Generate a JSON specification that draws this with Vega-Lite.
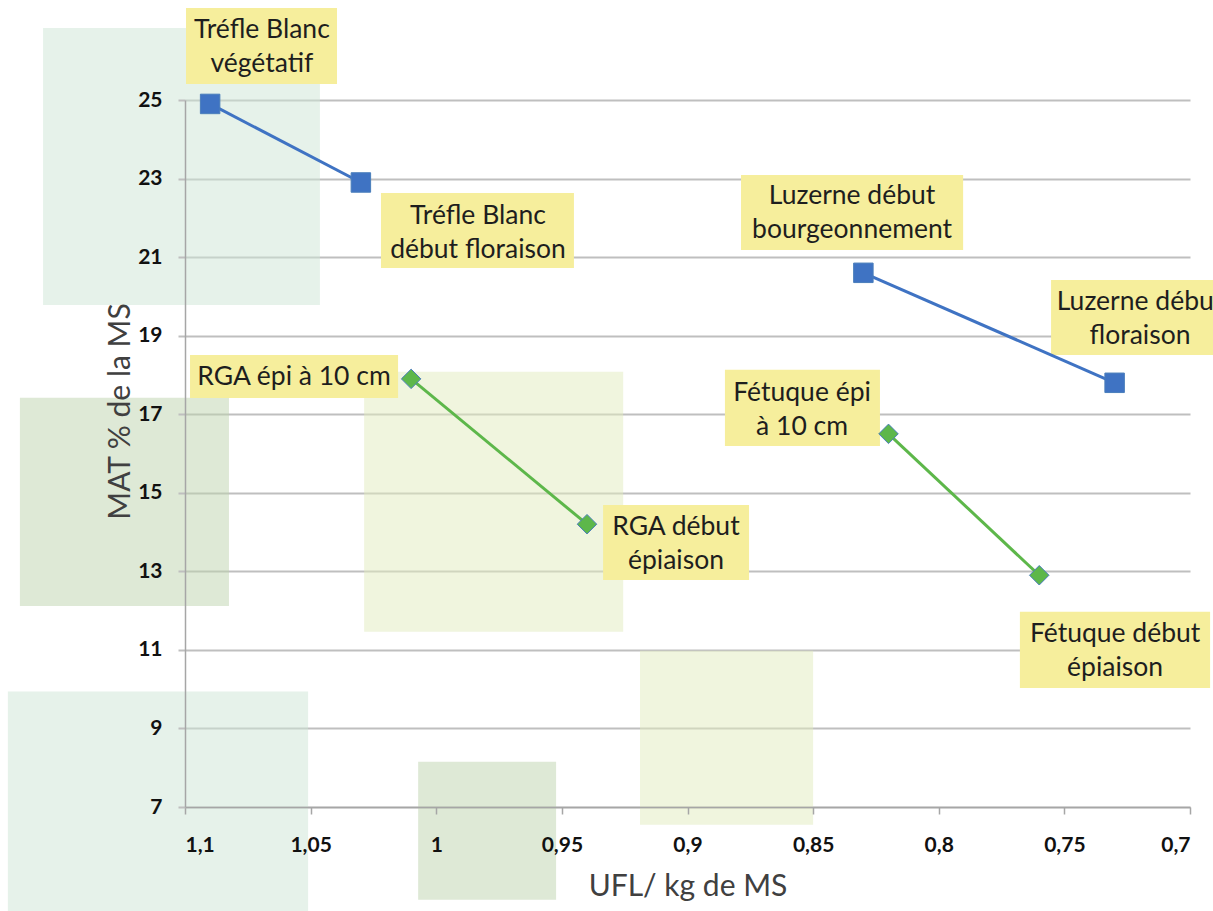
{
  "$schema": "https://vega.github.io/schema/vega-lite/v6.json",
  "autosize": {"type": "none"},
  "width": 1005,
  "height": 707,
  "padding": {"left": 185, "top": 100, "right": 23, "bottom": 104},
  "background": "white",
  "config": {"view": {"stroke": null}},
  "datasets": {
    "zones": [
      {"zone": "menthe", "x1": 1.1565, "x2": 1.0463, "y1": 26.83, "y2": 19.78},
      {"zone": "vert", "x1": 1.1657, "x2": 1.0825, "y1": 17.42, "y2": 12.12},
      {"zone": "jaune", "x1": 1.0287, "x2": 0.9256, "y1": 18.08, "y2": 11.46},
      {"zone": "menthe", "x1": 1.1705, "x2": 1.051, "y1": 9.94, "y2": 4.3},
      {"zone": "vert", "x1": 1.0072, "x2": 0.9523, "y1": 8.15, "y2": 4.64},
      {"zone": "jaune", "x1": 0.9189, "x2": 0.85, "y1": 10.98, "y2": 6.55}
    ],
    "etiquettes": [
      {"txt": "Tréfle Blanc\nvégétatif", "x1": 1.0996, "x2": 1.0395, "y1": 27.34, "y2": 25.41, "tx": 1.0694, "ty": 26.78},
      {"txt": "Tréfle Blanc\ndébut floraison", "x1": 1.022, "x2": 0.9452, "y1": 22.63, "y2": 20.72, "tx": 0.9834, "ty": 22.05},
      {"txt": "Luzerne début\nbourgeonnement", "x1": 0.8787, "x2": 0.7903, "y1": 23.09, "y2": 21.18, "tx": 0.8345, "ty": 22.56},
      {"txt": "Luzerne début\nfloraison", "x1": 0.7553, "x2": 0.6873, "y1": 20.42, "y2": 18.51, "tx": 0.7199, "ty": 19.86},
      {"txt": "RGA épi à 10 cm", "x1": 1.098, "x2": 1.0152, "y1": 18.51, "y2": 17.41, "tx": 1.0566, "ty": 17.95},
      {"txt": "RGA début\népiaison", "x1": 0.9336, "x2": 0.8755, "y1": 14.69, "y2": 12.78, "tx": 0.9046, "ty": 14.13},
      {"txt": "Fétuque épi\nà 10 cm", "x1": 0.8851, "x2": 0.8234, "y1": 18.13, "y2": 16.19, "tx": 0.8544, "ty": 17.54},
      {"txt": "Fétuque début\népiaison", "x1": 0.7677, "x2": 0.692, "y1": 11.97, "y2": 10.03, "tx": 0.7298, "ty": 11.41}
    ],
    "fourrages": [
      {"serie": "Tréfle Blanc", "groupe": "Légumineuse", "stade": "végétatif", "ufl": 1.09, "mat": 24.9},
      {"serie": "Tréfle Blanc", "groupe": "Légumineuse", "stade": "début floraison", "ufl": 1.03, "mat": 22.9},
      {"serie": "Luzerne", "groupe": "Légumineuse", "stade": "début bourgeonnement", "ufl": 0.83, "mat": 20.6},
      {"serie": "Luzerne", "groupe": "Légumineuse", "stade": "début floraison", "ufl": 0.73, "mat": 17.8},
      {"serie": "RGA", "groupe": "Graminée", "stade": "épi à 10 cm", "ufl": 1.01, "mat": 17.9},
      {"serie": "RGA", "groupe": "Graminée", "stade": "début épiaison", "ufl": 0.94, "mat": 14.2},
      {"serie": "Fétuque", "groupe": "Graminée", "stade": "épi à 10 cm", "ufl": 0.82, "mat": 16.5},
      {"serie": "Fétuque", "groupe": "Graminée", "stade": "début épiaison", "ufl": 0.76, "mat": 12.9}
    ]
  },
  "resolve": {"scale": {"color": "independent"}, "axis": {"x": "independent", "y": "independent"}},
  "layer": [
    {
      "data": {"name": "zones"},
      "mark": {"type": "rect", "opacity": 0.5},
      "encoding": {
        "x": {
          "field": "x1", "type": "quantitative",
          "scale": {"domain": [1.1, 0.7], "nice": false, "zero": false},
          "axis": {"orient": "bottom", "grid": false, "domain": false, "ticks": false, "labels": false, "title": null, "zindex": 0}
        },
        "x2": {"field": "x2"},
        "y": {
          "field": "y1", "type": "quantitative",
          "scale": {"domain": [7, 25], "nice": false, "zero": false},
          "axis": {
            "orient": "left",
            "values": [7, 9, 11, 13, 15, 17, 19, 21, 23, 25],
            "grid": true, "gridColor": "#BFBFBF", "gridWidth": 2,
            "domain": false, "ticks": false, "labels": false, "title": null, "zindex": 0
          }
        },
        "y2": {"field": "y2"},
        "color": {
          "field": "zone", "type": "nominal",
          "scale": {"domain": ["menthe", "vert", "jaune"], "range": ["#CDE5D5", "#BDD3AD", "#E1EBBD"]},
          "legend": null
        }
      }
    },
    {
      "data": {"name": "etiquettes"},
      "mark": {"type": "rect", "color": "#F6EE9C"},
      "encoding": {
        "x": {
          "field": "x1", "type": "quantitative",
          "axis": {
            "orient": "bottom",
            "values": [1.1, 1.05, 1, 0.95, 0.9, 0.85, 0.8, 0.75, 0.7],
            "labelExpr": "replace(format(datum.value, '.2~f'), '.', ',')",
            "grid": false, "zindex": 1,
            "domain": true, "domainColor": "#A6A6A6", "domainWidth": 1.5,
            "ticks": true, "tickColor": "#A6A6A6", "tickSize": 7, "tickWidth": 1.5,
            "labelFont": "Lato", "labelFontSize": 21, "labelFontWeight": "bold", "labelColor": "#111111",
            "labelPadding": 20,
            "title": "UFL/ kg de MS",
            "titleFont": "Lato", "titleFontSize": 30, "titleFontWeight": "normal", "titleColor": "#404040",
            "titleBaseline": "middle", "titleY": 79
          }
        },
        "x2": {"field": "x2"},
        "y": {
          "field": "y1", "type": "quantitative",
          "axis": {
            "orient": "left",
            "values": [7, 9, 11, 13, 15, 17, 19, 21, 23, 25],
            "grid": false, "zindex": 1,
            "domain": true, "domainColor": "#A6A6A6", "domainWidth": 1.5,
            "ticks": true, "tickColor": "#BFBFBF", "tickSize": 7, "tickWidth": 2,
            "labelFont": "Lato", "labelFontSize": 21, "labelFontWeight": "bold", "labelColor": "#111111",
            "labelPadding": 16,
            "title": "MAT % de la MS",
            "titleFont": "Lato", "titleFontSize": 30, "titleFontWeight": "normal", "titleColor": "#404040",
            "titleAngle": -90, "titleBaseline": "middle", "titleAlign": "center",
            "titleX": -65, "titleY": 311
          }
        },
        "y2": {"field": "y2"}
      }
    },
    {
      "data": {"name": "fourrages"},
      "mark": {"type": "line", "strokeWidth": 3},
      "encoding": {
        "x": {"field": "ufl", "type": "quantitative", "axis": null},
        "y": {"field": "mat", "type": "quantitative", "axis": null},
        "detail": {"field": "serie"},
        "strokeWidth": {
          "field": "groupe", "type": "nominal",
          "scale": {"domain": ["Légumineuse", "Graminée"], "range": [3.5, 2.5]},
          "legend": null
        },
        "color": {
          "field": "groupe", "type": "nominal",
          "scale": {"domain": ["Légumineuse", "Graminée"], "range": ["#3F73C3", "#5DB74A"]},
          "legend": null
        }
      }
    },
    {
      "data": {"name": "fourrages"},
      "mark": {"type": "point", "filled": true, "size": 380, "opacity": 1, "stroke": "#4A7EBB", "strokeWidth": 1},
      "encoding": {
        "x": {"field": "ufl", "type": "quantitative", "axis": null},
        "y": {"field": "mat", "type": "quantitative", "axis": null},
        "shape": {
          "field": "groupe", "type": "nominal",
          "scale": {"domain": ["Légumineuse", "Graminée"], "range": ["square", "diamond"]},
          "legend": null
        },
        "color": {
          "field": "groupe", "type": "nominal",
          "scale": {"domain": ["Légumineuse", "Graminée"], "range": ["#3F73C3", "#5DB74A"]},
          "legend": null
        }
      }
    },
    {
      "data": {"name": "etiquettes"},
      "mark": {"type": "text", "font": "Lato", "fontSize": 26.5, "lineHeight": 34, "lineBreak": "\n", "align": "center", "baseline": "middle", "color": "#1E1E1E"},
      "encoding": {
        "x": {"field": "tx", "type": "quantitative", "axis": null},
        "y": {"field": "ty", "type": "quantitative", "axis": null},
        "text": {"field": "txt"}
      }
    }
  ]
}
